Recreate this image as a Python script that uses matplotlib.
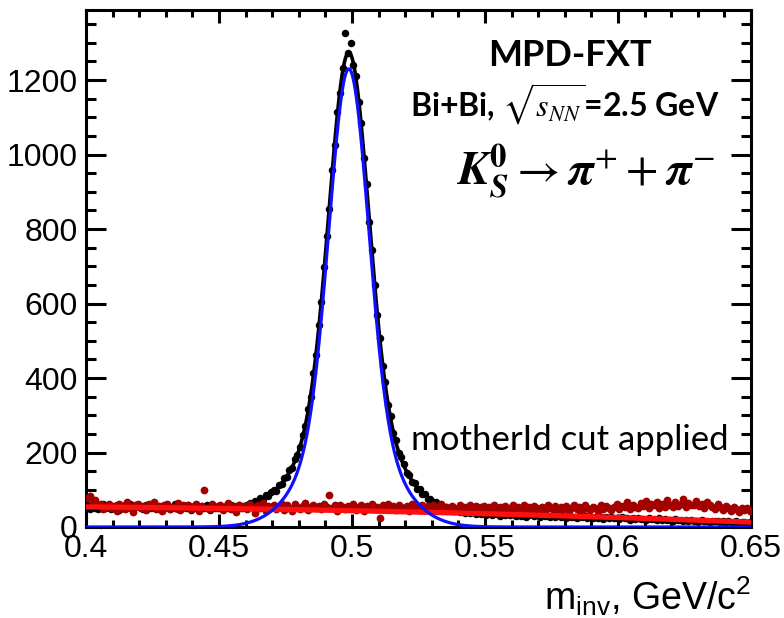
import matplotlib

matplotlib.use("Agg")

import matplotlib.pyplot as plt
import numpy as np
from matplotlib.ticker import MultipleLocator

# K0s -> pi+ pi- invariant mass, 1 MeV bins from 0.400 to 0.650 GeV/c^2
MASS_LO = 0.400
BIN_W = 0.001

# all pairs (black)
counts_all = [
    58, 49, 61, 52, 47, 57, 63, 50, 55, 48,
    53, 60, 46, 55, 58, 50, 62, 49, 54, 57,
    51, 47, 59, 56, 50, 64, 53, 48, 55, 52,
    58, 49, 54, 61, 47, 53, 56, 50, 59, 45,
    52, 55, 48, 57, 51, 60, 46, 54, 50, 56,
    53, 47, 56, 50, 58, 52, 49, 60, 55, 57,
    58, 64, 60, 70, 66, 77, 74, 85, 82, 93,
    98, 97, 112, 115, 131, 133, 152, 158, 183, 192,
    214, 248, 270, 318, 350, 414, 461, 541, 603, 697,
    780, 855, 958, 1026, 1115, 1166, 1232, 1325, 1272,
    1300, 1240, 1212, 1141, 1085, 990, 921, 818, 745, 649,
    570, 508, 432, 388, 328, 297, 252, 233, 199, 187,
    168, 144, 140, 121, 119, 103, 101, 89, 88, 76,
    75, 66, 67, 58, 60, 52, 55, 48, 51, 44,
    46, 40, 44, 38, 42, 37, 41, 35, 39, 34,
    38, 33, 37, 31, 36, 34, 30, 35, 32, 36,
    31, 35, 29, 33, 30, 34, 28, 32, 35, 29,
    31, 27, 33, 29, 30, 26, 32, 28, 31, 27,
    29, 25, 31, 27, 28, 24, 30, 26, 29, 25,
    27, 23, 28, 25, 26, 22, 27, 24, 26, 23,
    25, 21, 26, 23, 24, 20, 25, 22, 23, 21,
    22, 19, 24, 21, 22, 18, 23, 20, 21, 19,
    20, 17, 21, 19, 18, 16, 20, 17, 19, 16,
    17, 15, 18, 16, 17, 14, 16, 15, 17, 13,
    15, 13, 16, 14, 13, 15, 12, 14, 13, 12, 13,
]

# pairs rejected by the motherId cut (dark red)
counts_cut = [
    78, 84, 66, 72, 58, 63, 49, 55, 61, 52,
    57, 44, 62, 53, 48, 66, 55, 41, 59, 63,
    50, 57, 46, 61, 54, 68, 49, 56, 43, 58,
    62, 47, 55, 51, 64, 45, 58, 53, 60, 48,
    56, 63, 42, 57, 99, 52, 47, 61, 55, 50,
    58, 45, 53, 64, 49, 57, 41, 60, 52, 56,
    47, 62, 54, 38, 59, 51, 65, 44, 57, 53,
    60, 48, 55, 63, 46, 58, 52, 43, 61, 54,
    49, 57, 64, 45, 53, 60, 50, 56, 47, 62,
    55, 86, 51, 58, 44, 60, 53, 48, 57,
    50, 62, 46, 55, 59, 43, 57, 52, 61, 48,
    54, 24, 58, 47, 63, 51, 56, 45, 60, 53,
    49, 57, 44, 62, 52, 55, 46, 59, 50, 56,
    43, 58, 53, 47, 61, 50, 55, 45, 57, 52,
    48, 60, 46, 54, 51, 58, 44, 56, 49, 53,
    57, 42, 55, 50, 59, 46, 53, 48, 56, 44,
    52, 58, 45, 54, 49, 60, 47, 53, 43, 57,
    50, 46, 55, 41, 58, 52, 48, 56, 45, 53,
    49, 57, 44, 51, 60, 47, 54, 42, 58, 50,
    46, 55, 52, 43, 59, 48, 56, 51, 45, 54,
    62, 49, 57, 53, 66, 48, 60, 55, 51, 64,
    56, 70, 52, 61, 58, 67, 50, 63, 55, 72,
    59, 54, 68, 57, 62, 74, 53, 65, 60, 58,
    71, 56, 63, 52, 67, 60, 55, 48, 62, 53,
    45, 57, 50, 43, 55, 48, 41, 52, 46, 50, 44,
]

# fit: double gaussian signal + pol2 background (in m - 0.4)
SIG_MEAN = 0.4988
SIG_AMP = [950.0, 280.0]
SIG_SIGMA = [0.0072, 0.015]
BG_POL = [54.0, -60.0, -416.0]

FONT = ["Liberation Sans", "DejaVu Sans"]
LABEL_FONT = ["Lato", "DejaVu Sans"]

plt.rcParams.update(
    {
        "font.family": FONT,
        "mathtext.fontset": "custom",
        "mathtext.rm": "Liberation Sans",
        "mathtext.it": "Liberation Sans:italic",
        "mathtext.bf": "Liberation Sans:bold",
    }
)


def signal(m):
    return sum(a * np.exp(-0.5 * ((m - SIG_MEAN) / s) ** 2) for a, s in zip(SIG_AMP, SIG_SIGMA))


def background(m):
    t = m - MASS_LO
    return BG_POL[0] + BG_POL[1] * t + BG_POL[2] * t**2


m_all = MASS_LO + BIN_W * (np.arange(len(counts_all)) + 0.5)
m_cut = MASS_LO + BIN_W * (np.arange(len(counts_cut)) + 0.5)
m_fine = np.linspace(0.4, 0.65, 1200)

fig = plt.figure(figsize=(7.84, 6.18), dpi=100)
ax = fig.add_axes([86 / 784, 1 - 527 / 618, 665 / 784, 517 / 618])

ax.plot(m_all, counts_all, "o", color="black", ms=5.4, mew=0, zorder=2)
ax.plot(m_fine, signal(m_fine) + background(m_fine), color="black", lw=2.6, zorder=3)
ax.plot(m_cut, counts_cut, "o", color="#a30000", ms=5.6, mew=0, zorder=4)
ax.plot(m_fine, background(m_fine), color="#ff1010", lw=3.8, zorder=5)
ax.plot(m_fine, signal(m_fine), color="#1010ff", lw=2.3, zorder=6)

ax.set_xlim(0.4, 0.65)
ax.set_ylim(0, 1388)
ax.xaxis.set_major_locator(MultipleLocator(0.05))
ax.xaxis.set_minor_locator(MultipleLocator(0.01))
ax.yaxis.set_major_locator(MultipleLocator(200))
ax.yaxis.set_minor_locator(MultipleLocator(50))
ax.set_xticks([0.4, 0.45, 0.5, 0.55, 0.6, 0.65], ["0.4", "0.45", "0.5", "0.55", "0.6", "0.65"])

for side in ax.spines.values():
    side.set_linewidth(2.2)
ax.tick_params(which="both", direction="in", top=True, right=True, width=2.2, labelsize=23)
ax.tick_params(axis="y", which="major", length=14.5, pad=6)
ax.tick_params(axis="y", which="minor", length=7.2)
ax.tick_params(axis="x", which="major", length=9.5, pad=5)
ax.tick_params(axis="x", which="minor", length=5)

ax.set_xlabel(r"m$_{\mathrm{inv}}$, GeV/c$^{2}$", fontsize=27, loc="right", labelpad=7)

fig.text(570 / 784, 1 - 55 / 618, "MPD-FXT", family=LABEL_FONT, fontweight="bold",
         fontsize=26, ha="center", va="center")
fig.text(565 / 784, 1 - 104 / 618, r"Bi+Bi, $\sqrt{s_{NN}}$=2.5 GeV", family=LABEL_FONT,
         fontweight="bold", fontsize=23, ha="center", va="center", math_fontfamily="stix")
fig.text(585 / 784, 1 - 172 / 618,
         r"$\mathbfit{K}_{\mathbfit{S}}^{\mathbf{0}} \rightarrow \mathbfit{\pi}^{+} + \mathbfit{\pi}^{-}$",
         fontsize=34, ha="center", va="center", math_fontfamily="stix")
fig.text(570 / 784, 1 - 440 / 618, "motherId cut applied", family=LABEL_FONT,
         fontsize=25, ha="center", va="center")

fig.savefig("out.png", dpi=100)
